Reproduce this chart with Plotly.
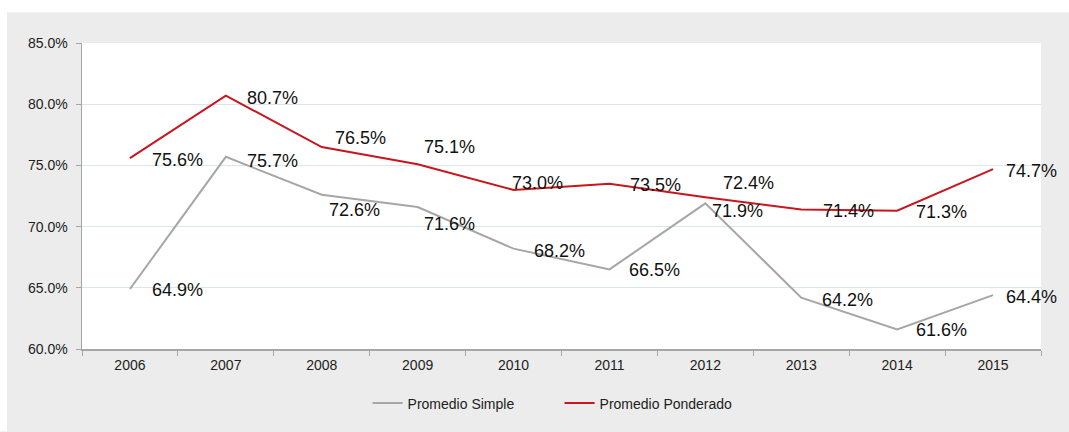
import plotly.graph_objects as go

years = ["2006", "2007", "2008", "2009", "2010", "2011", "2012", "2013", "2014", "2015"]
promedio_simple = [64.9, 75.7, 72.6, 71.6, 68.2, 66.5, 71.9, 64.2, 61.6, 64.4]
promedio_ponderado = [75.6, 80.7, 76.5, 75.1, 73.0, 73.5, 72.4, 71.4, 71.3, 74.7]
y_ticks = [60, 65, 70, 75, 80, 85]

# label offsets (pixels) for the data labels
simple_dx = [20, 19, 5, 4, 18, 18, 5, 19, 17, 11]
simple_dy = [-1, -4, -15, -17, -2, -1, -8, -2, -1, -2]
ponderado_dx = [20, 19, 11, 4, -4, 19, 16, 20, 17, 11]
ponderado_dy = [-2, -2, 9, 17, 7, -1, 14, -2, -1, -2]

FONT = "Liberation Sans, Arial, sans-serif"
GRAY = "#A6A6A6"
RED = "#C8161D"
PANEL = "#ECECEC"

fig = go.Figure()
fig.add_trace(go.Scatter(x=years, y=promedio_simple, mode="lines", name="Promedio Simple",
                         line=dict(color=GRAY, width=2)))
fig.add_trace(go.Scatter(x=years, y=promedio_ponderado, mode="lines", name="Promedio Ponderado",
                         line=dict(color=RED, width=2)))

annotations = []
for vals, dxs, dys in [(promedio_simple, simple_dx, simple_dy),
                       (promedio_ponderado, ponderado_dx, ponderado_dy)]:
    for i, (v, dx, dy) in enumerate(zip(vals, dxs, dys)):
        annotations.append(dict(x=i, y=v, xref="x", yref="y", text=f"{v:.1f}%",
                                showarrow=False, xanchor="left", yanchor="middle",
                                xshift=dx, yshift=dy,
                                font=dict(family=FONT, size=18, color="#111111")))

W, H = 1069, 432
L, R, T, B = 82, 28, 43, 80
pw, ph = W - L - R, H - T - B

shapes = [
    # white page margin on top and left of the grey panel
    dict(type="rect", xref="paper", yref="paper", x0=-L / pw - 0.01, x1=1 + R / pw + 0.05,
         y0=1 + (T - 12) / ph, y1=1 + T / ph + 0.01, fillcolor="white", line=dict(width=0), layer="below"),
    dict(type="rect", xref="paper", yref="paper", x0=-L / pw - 0.01, x1=(7 - L) / pw,
         y0=-B / ph - 0.01, y1=1 + T / ph + 0.01, fillcolor="white", line=dict(width=0), layer="below"),
]

fig.update_layout(
    width=W, height=H,
    margin=dict(l=L, r=R, t=T, b=B, pad=0),
    paper_bgcolor=PANEL,
    plot_bgcolor="white",
    font=dict(family=FONT, size=14, color="#222222"),
    showlegend=True,
    legend=dict(orientation="h", x=0.498, xanchor="center", y=(352 - 407) / ph, yanchor="middle",
                font=dict(size=14, color="#222222"), bgcolor="rgba(0,0,0,0)",
                itemwidth=30, entrywidth=147, entrywidthmode="pixels", tracegroupgap=0),
    annotations=annotations,
    shapes=shapes,
)
fig.update_xaxes(type="category", range=[-0.5, 9.5], showgrid=False, showline=True,
                 linecolor="#A6A6A6", linewidth=1.5, ticks="outside", tickson="boundaries",
                 ticklen=5, tickcolor="#A6A6A6", tickwidth=1, tickfont=dict(size=14),
                 ticklabelstandoff=3, fixedrange=True)
fig.update_yaxes(range=[60, 85], tickvals=y_ticks, ticktext=[f"{t:.1f}%" for t in y_ticks],
                 showgrid=True, gridcolor="#DDE4EA", gridwidth=1.2,
                 showline=True, linecolor="#A6A6A6", linewidth=1.5, ticks="outside",
                 ticklen=5, tickcolor="#A6A6A6", tickwidth=1, tickfont=dict(size=14),
                 ticklabelstandoff=5, zeroline=False, fixedrange=True)

fig.write_html(
    "out.html",
    config={"displayModeBar": False, "staticPlot": True},
    post_script=(
        "document.body.style.margin='0';"
        "document.body.style.overflow='hidden';"
        "document.documentElement.style.background='" + PANEL + "';"
        "document.body.style.background='" + PANEL + "';"
    ),
)
